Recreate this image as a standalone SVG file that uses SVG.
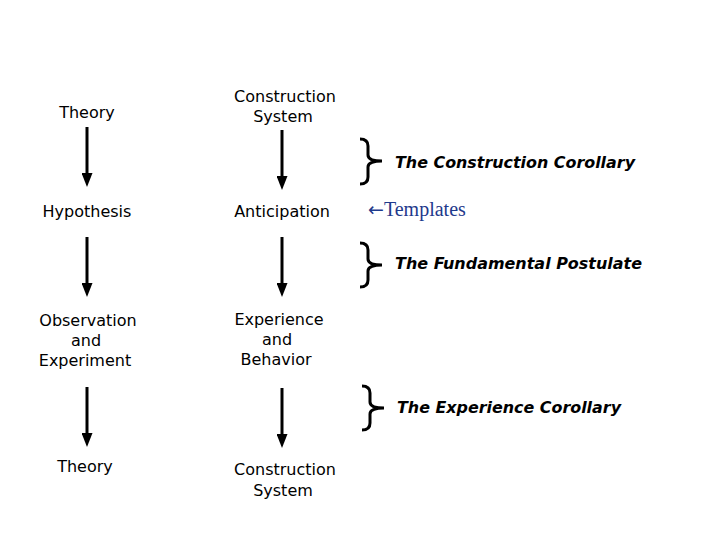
<svg xmlns="http://www.w3.org/2000/svg" width="720" height="540" viewBox="0 0 720 540">
<style>
.n{font-family:"DejaVu Sans","Verdana",sans-serif;font-size:16px;fill:#000;text-anchor:middle}
.c{font-family:"DejaVu Sans","Verdana",sans-serif;font-size:15px;font-weight:bold;font-style:italic;fill:#000}
.t{font-family:"Liberation Serif","Times New Roman",serif;font-size:20px;fill:#1f3a8c}
.ar{font-family:"DejaVu Sans",sans-serif;font-size:19px}
.a{stroke:#000;stroke-width:3;fill:none;marker-end:url(#ah)}
.b{stroke:#000;stroke-width:3;fill:none}
</style>
<defs>
<marker id="ah" viewBox="0 0 14 11" refX="2" refY="5.5" markerWidth="14" markerHeight="11" markerUnits="userSpaceOnUse" orient="auto">
<path d="M0,0 L14,5.5 L0,11 Z" fill="#000"/>
</marker>
</defs>
<rect width="720" height="540" fill="#fff"/>
<g id="connectors">
<line class="a" x1="87" y1="127" x2="87" y2="175"/>
<line class="a" x1="282" y1="130" x2="282" y2="178"/>
<line class="a" x1="87" y1="237" x2="87" y2="285"/>
<line class="a" x1="282" y1="237" x2="282" y2="285"/>
<line class="a" x1="87" y1="387" x2="87" y2="435"/>
<line class="a" x1="282" y1="388" x2="282" y2="436"/>
</g>
<g id="theory1"><text class="n" x="87" y="118">Theory</text></g>
<g id="cs1"><text class="n" x="285" y="102">Construction</text><text class="n" x="283" y="122">System</text></g>
<g id="hypothesis"><text class="n" x="87" y="217">Hypothesis</text></g>
<g id="anticipation"><text class="n" x="282" y="217">Anticipation</text></g>
<g id="observation"><text class="n" x="88" y="326">Observation</text><text class="n" x="86" y="346">and</text><text class="n" x="85" y="366">Experiment</text></g>
<g id="experience"><text class="n" x="279" y="325">Experience</text><text class="n" x="277" y="345">and</text><text class="n" x="276" y="365">Behavior</text></g>
<g id="theory2"><text class="n" x="85" y="472">Theory</text></g>
<g id="cs2"><text class="n" x="285" y="475">Construction</text><text class="n" x="283" y="496">System</text></g>
<g id="brace1">
<path class="b" d="M360,139 Q368,139 368,146 L368,155 Q368,161 382,161 Q368,161 368,167 L368,177 Q368,184 360,184"/>
<text class="c" x="395" y="168" textLength="240" lengthAdjust="spacingAndGlyphs">The Construction Corollary</text>
</g>
<g id="templates"><text class="t" x="368" y="216"><tspan class="ar">←</tspan>Templates</text></g>
<g id="brace2">
<path class="b" d="M360,243 Q368,243 368,250 L368,259 Q368,265 382,265 Q368,265 368,271 L368,280 Q368,287 360,287"/>
<text class="c" x="395" y="269" textLength="247" lengthAdjust="spacingAndGlyphs">The Fundamental Postulate</text>
</g>
<g id="brace3">
<path class="b" d="M362,386 Q370,386 370,393 L370,402 Q370,408 384,408 Q370,408 370,414 L370,423 Q370,430 362,430"/>
<text class="c" x="397" y="413" textLength="224" lengthAdjust="spacingAndGlyphs">The Experience Corollary</text>
</g>
</svg>
